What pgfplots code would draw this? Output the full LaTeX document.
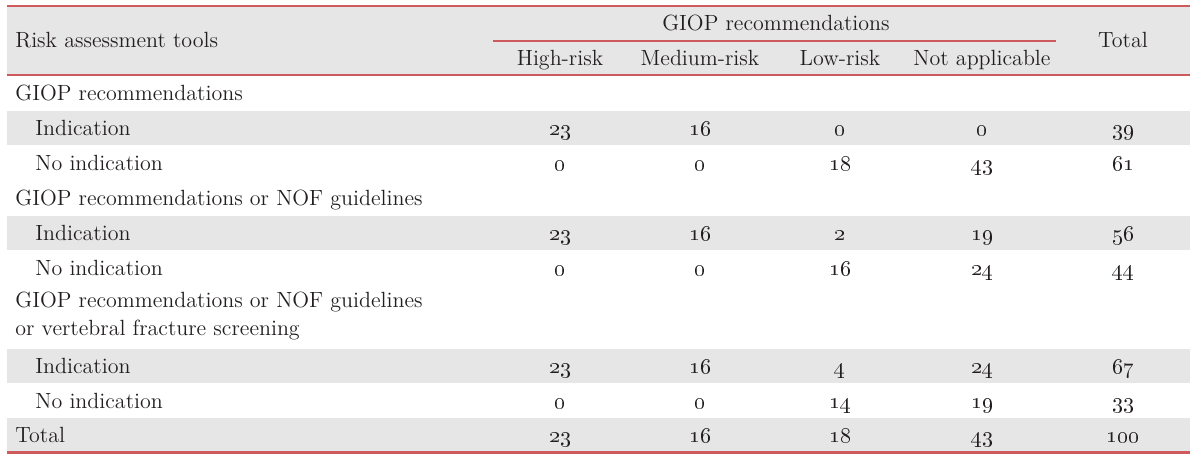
\documentclass[border=0pt]{standalone}
\usepackage{pgfplots}
\pgfplotsset{compat=1.18}
\definecolor{band}{HTML}{E6E6E6}
\definecolor{rline}{HTML}{CF5A5E}
\definecolor{txt}{HTML}{231F20}
\tikzset{lbl/.style={font=\fontsize{11}{13}\selectfont, text=txt, inner sep=0pt}}
\begin{document}
\begin{tikzpicture}
\begin{axis}[
  scale only axis, width=600pt, height=229pt,
  xmin=0, xmax=1200, ymin=0, ymax=458, y dir=reverse,
  hide axis, clip=false,
  numcol/.style={only marks, mark=none, point meta=explicit symbolic,
     nodes near coords={\oldstylenums{\pgfplotspointmeta}},
     every node near coord/.append style={lbl, anchor=base}},
]
\path (axis cs:0,0) rectangle (axis cs:1200,458);
% bands
\addplot[fill=band, draw=none] coordinates {(7,6) (1190,6) (1190,75) (7,75)} -- cycle;
\addplot[fill=band, draw=none] coordinates {(7,111) (1190,111) (1190,145) (7,145)} -- cycle;
\addplot[fill=band, draw=none] coordinates {(7,216) (1190,216) (1190,250) (7,250)} -- cycle;
\addplot[fill=band, draw=none] coordinates {(7,349) (1190,349) (1190,383) (7,383)} -- cycle;
\addplot[fill=band, draw=none] coordinates {(7,418) (1190,418) (1190,452) (7,452)} -- cycle;
% rules
\addplot[rline, line width=1.1pt] coordinates {(7,6) (1190,6)};
\addplot[rline, line width=0.9pt] coordinates {(493,41) (1056,41)};
\addplot[rline, line width=1pt] coordinates {(7,75) (1190,75)};
\addplot[rline, line width=1.1pt] coordinates {(7,452.5) (1190,452.5)};
% header text
\node[lbl, anchor=base west] at (axis cs:15,48) {Risk assessment tools};
\node[lbl, anchor=base] at (axis cs:776,31) {GIOP recommendations};
\node[lbl, anchor=base] at (axis cs:1123,48) {Total};
\node[lbl, anchor=base] at (axis cs:560,65) {High-risk};
\node[lbl, anchor=base] at (axis cs:700,65) {Medium-risk};
\node[lbl, anchor=base] at (axis cs:840,65) {Low-risk};
\node[lbl, anchor=base] at (axis cs:982,65) {Not applicable};
% row labels
\node[lbl, anchor=base west] at (axis cs:15,100) {GIOP recommendations};
\node[lbl, anchor=base west] at (axis cs:35,135) {Indication};
\node[lbl, anchor=base west] at (axis cs:35,170) {No indication};
\node[lbl, anchor=base west] at (axis cs:15,205) {GIOP recommendations or NOF guidelines};
\node[lbl, anchor=base west] at (axis cs:35,240) {Indication};
\node[lbl, anchor=base west] at (axis cs:35,275) {No indication};
\node[lbl, anchor=base west] at (axis cs:15,307.5) {GIOP recommendations or NOF guidelines};
\node[lbl, anchor=base west] at (axis cs:15,335) {or vertebral fracture screening};
\node[lbl, anchor=base west] at (axis cs:35,373) {Indication};
\node[lbl, anchor=base west] at (axis cs:35,408) {No indication};
\node[lbl, anchor=base west] at (axis cs:15,442.5) {Total};
% data columns (y = baseline)
\addplot[numcol] coordinates {(560,135)[23] (560,170)[0] (560,240)[23] (560,275)[0] (560,373)[23] (560,408)[0] (560,442)[23]};
\addplot[numcol] coordinates {(700,135)[16] (700,170)[0] (700,240)[16] (700,275)[0] (700,373)[16] (700,408)[0] (700,442)[16]};
\addplot[numcol] coordinates {(840,135)[0] (840,170)[18] (840,240)[2] (840,275)[16] (840,373)[4] (840,408)[14] (840,442)[18]};
\addplot[numcol] coordinates {(982,135)[0] (982,170)[43] (982,240)[19] (982,275)[24] (982,373)[24] (982,408)[19] (982,442)[43]};
\addplot[numcol] coordinates {(1123,135)[39] (1123,170)[61] (1123,240)[56] (1123,275)[44] (1123,373)[67] (1123,408)[33] (1123,442)[100]};
\end{axis}
\end{tikzpicture}
\end{document}
